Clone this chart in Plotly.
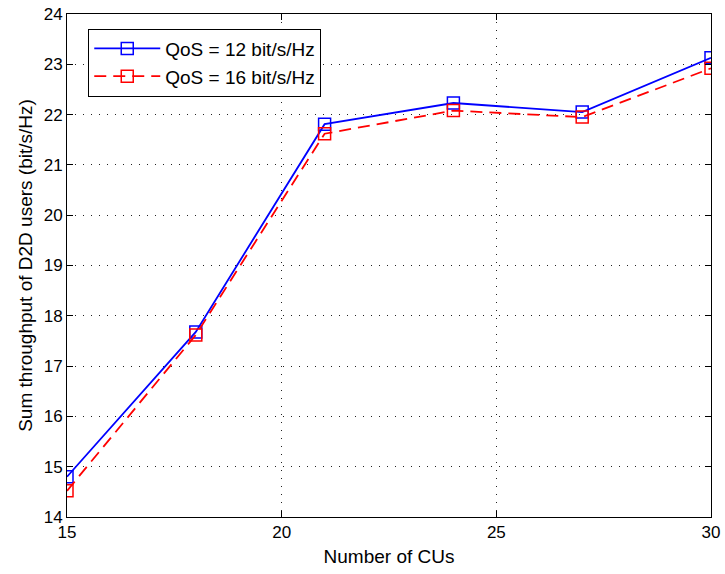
import plotly.graph_objects as go

cus = [15, 18, 21, 24, 27, 30]
qos12 = [14.80, 17.68, 21.81, 22.23, 22.05, 23.13]
qos16 = [14.52, 17.62, 21.62, 22.08, 21.95, 22.92]
names = ["QoS = 12 bit/s/Hz", "QoS = 16 bit/s/Hz"]

FONT = "Liberation Sans, Arial, Helvetica"

fig = go.Figure()
fig.add_trace(go.Scatter(x=cus, y=qos12, name=names[0], mode="lines+markers",
                         line=dict(color="blue", width=1.8),
                         marker=dict(symbol="square-open", size=12, color="blue", line=dict(width=1.5))))
fig.add_trace(go.Scatter(x=cus, y=qos16, name=names[1], mode="lines+markers",
                         line=dict(color="red", width=1.8, dash="12px,7px"),
                         marker=dict(symbol="square-open", size=12, color="red", line=dict(width=1.5))))

axis_common = dict(showline=True, linecolor="black", linewidth=1, mirror="ticks",
                   ticks="inside", ticklen=6, tickcolor="black",
                   showgrid=True, gridcolor="#222222", griddash="1px,7px", gridwidth=1,
                   zeroline=False, automargin=False,
                   tickfont=dict(family=FONT, size=17, color="black"))

fig.update_xaxes(range=[15, 30], tickvals=[15, 20, 25, 30],
                 title=dict(text="Number of CUs", font=dict(family=FONT, size=19, color="black"), standoff=8),
                 **axis_common)
fig.update_yaxes(range=[14, 24], tickvals=list(range(14, 25)),
                 title=dict(text="Sum throughput of D2D users (bit/s/Hz)", font=dict(family=FONT, size=19, color="black"), standoff=6),
                 **axis_common)

fig.update_layout(width=725, height=574, plot_bgcolor="white", paper_bgcolor="white",
                  margin=dict(l=67, r=14, t=14, b=57),
                  legend=dict(x=0.033, y=0.971, xanchor="left", yanchor="top",
                              bgcolor="white", bordercolor="black", borderwidth=1,
                              itemwidth=66,
                              font=dict(family=FONT, size=19, color="black")),
                  font=dict(family=FONT))

fig.write_html("out.html")
